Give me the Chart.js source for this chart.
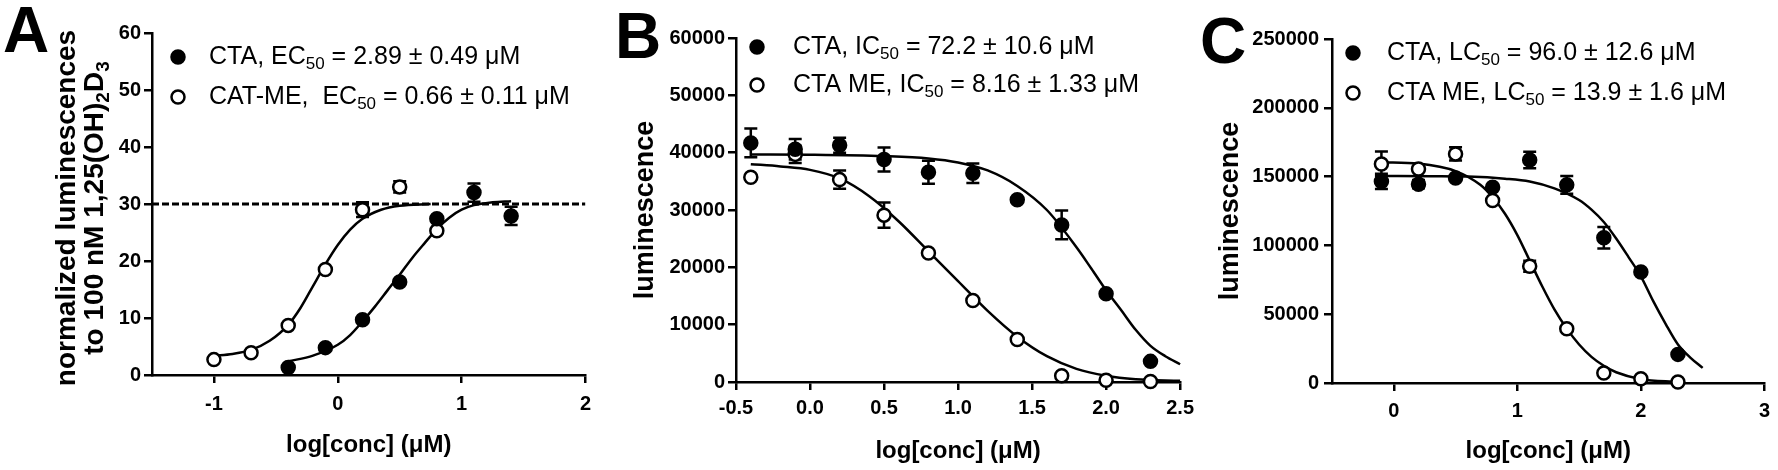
<!DOCTYPE html>
<html>
<head>
<meta charset="utf-8">
<title>CTA / CTA ME dose response</title>
<script src="https://cdn.jsdelivr.net/npm/chart.js@4.4.1/dist/chart.umd.min.js"></script>
<style>
  body { margin: 0; background: #fff; }
  #wrap { position: relative; width: 1778px; height: 470px; overflow: hidden; }
  #wrap canvas { position: absolute; top: 0; }
</style>
</head>
<body>
<div id="wrap">
  <canvas id="chartA" width="600" height="470" style="left:0px"></canvas>
  <canvas id="chartB" width="600" height="470" style="left:600px"></canvas>
  <canvas id="chartC" width="588" height="470" style="left:1190px"></canvas>
</div>
<script>
/* ---- panel A : VDR activation ---- */
const aDoseCTA = [-0.4, -0.1, 0.2, 0.5, 0.8, 1.1, 1.4];
const aCTA = [1.3, 4.8, 9.7, 16.3, 27.4, 32.0, 27.9];
const aCTAErr = [0, 0, 0, 0, 0, 1.6, 1.6];
const aDoseME = [-1.0, -0.7, -0.4, -0.1, 0.2, 0.5, 0.8];
const aME = [2.7, 3.9, 8.7, 18.5, 29.0, 33.0, 25.3];
const aMEErr = [0, 0, 0, 0, 1.3, 1.0, 0];
const aFitCTAx = [-0.4, -0.2, 0, 0.1, 0.2, 0.3, 0.4, 0.5, 0.6, 0.7, 0.8, 0.9, 1.0, 1.1, 1.25, 1.4];
const aFitCTAy = [2.4, 3.4, 5.3, 7.0, 9.4, 12.0, 14.8, 17.6, 20.5, 23.1, 25.6, 27.6, 29.0, 29.8, 30.3, 30.5];
const aFitMEx = [-1.0, -0.85, -0.7, -0.55, -0.4, -0.3, -0.2, -0.1, 0, 0.1, 0.2, 0.35, 0.5, 0.75];
const aFitMEy = [3.4, 3.7, 4.4, 6.0, 8.8, 11.8, 15.6, 19.4, 22.8, 25.5, 27.4, 29.0, 29.7, 30.0];
const aPlateau = 30;
const aXTicks = [-1, 0, 1, 2];
const aXLabels = ['-1', '0', '1', '2'];
const aYTicks = [0, 10, 20, 30, 40, 50, 60];
const aYLabels = ['0', '10', '20', '30', '40', '50', '60'];
const aLegend = [['CTA, EC', '_50', ' = 2.89 \u00b1 0.49 \u03bcM'], ['CAT-ME,  EC', '_50', ' = 0.66 \u00b1 0.11 \u03bcM']];
const aYTitle = [['normalized luminescences'], ['to 100 nM 1,25(OH)', '_2', 'D', '_3']];

/* ---- panel B : inhibition ---- */
const bDose = [-0.4, -0.1, 0.2, 0.5, 0.8, 1.1, 1.4, 1.7, 2.0, 2.3];
const bCTA = [41700, 40600, 41300, 38800, 36600, 36400, 31800, 27400, 15400, 3600];
const bCTAErr = [2500, 1800, 1300, 2100, 2000, 1700, 0, 2500, 0, 0];
const bME = [35700, 39700, 35300, 29100, 22500, 14200, 7400, 1100, 300, 100];
const bMEErr = [0, 1500, 1600, 2200, 0, 0, 0, 0, 0, 0];
const bFitCTAx = [-0.4, 0, 0.5, 0.8, 1.0, 1.2, 1.4, 1.6, 1.8, 1.9, 2.0, 2.1, 2.2, 2.3, 2.4, 2.5];
const bFitCTAy = [39700, 39650, 39400, 39000, 38300, 36900, 34200, 30000, 23500, 19800, 16000, 12600, 9100, 6300, 4500, 3100];
const bFitMEx = [-0.4, -0.2, 0, 0.2, 0.4, 0.6, 0.8, 1.0, 1.2, 1.4, 1.6, 1.8, 2.0, 2.2, 2.5];
const bFitMEy = [38000, 37600, 37000, 35500, 32400, 28000, 22800, 17600, 12400, 7900, 4500, 2300, 1100, 500, 200];
const bXTicks = [-0.5, 0, 0.5, 1, 1.5, 2, 2.5];
const bXLabels = ['-0.5', '0.0', '0.5', '1.0', '1.5', '2.0', '2.5'];
const bYTicks = [0, 10000, 20000, 30000, 40000, 50000, 60000];
const bYLabels = ['0', '10000', '20000', '30000', '40000', '50000', '60000'];
const bLegend = [['CTA, IC', '_50', ' = 72.2 \u00b1 10.6 \u03bcM'], ['CTA ME, IC', '_50', ' = 8.16 \u00b1 1.33 \u03bcM']];

/* ---- panel C : viability ---- */
const cDose = [-0.1, 0.2, 0.5, 0.8, 1.1, 1.4, 1.7, 2.0, 2.3];
const cCTA = [146500, 144500, 149000, 142300, 162100, 144000, 105500, 80600, 20800];
const cCTAErr = [5500, 3000, 0, 0, 6000, 6500, 7800, 0, 0];
const cME = [159200, 155500, 166500, 132600, 84900, 39400, 7300, 3100, 700];
const cMEErr = [9000, 2000, 4800, 0, 4000, 0, 0, 0, 0];
const cFitCTAx = [-0.1, 0.3, 0.6, 0.9, 1.1, 1.3, 1.5, 1.6, 1.7, 1.8, 1.9, 2.0, 2.1, 2.2, 2.3, 2.4, 2.5];
const cFitCTAy = [150500, 150300, 150000, 148500, 146500, 141500, 133000, 126000, 117000, 105000, 91500, 77500, 59500, 43000, 28000, 18500, 11000];
const cFitMEx = [-0.1, 0.2, 0.5, 0.7, 0.8, 0.9, 1.0, 1.1, 1.2, 1.3, 1.4, 1.5, 1.6, 1.7, 1.8, 2.0, 2.3];
const cFitMEy = [160500, 159500, 154000, 144000, 135000, 123000, 107500, 89000, 70500, 53500, 39500, 28000, 19000, 12500, 7800, 2800, 700];
const cXTicks = [0, 1, 2, 3];
const cXLabels = ['0', '1', '2', '3'];
const cYTicks = [0, 50000, 100000, 150000, 200000, 250000];
const cYLabels = ['0', '50000', '100000', '150000', '200000', '250000'];
const cLegend = [['CTA, LC', '_50', ' = 96.0 \u00b1 12.6 \u03bcM'], ['CTA ME, LC', '_50', ' = 13.9 \u00b1 1.6 \u03bcM']];

const xTitle = 'log[conc] (\u03bcM)';
const FONT = "'Liberation Sans', Arial, Helvetica, sans-serif";

function toPoints(xs, ys) {
  return xs.map(function (x, i) { return {x: x, y: ys[i]}; });
}

/* text pieces starting with '_' are drawn as subscripts */
function partsWidth(ctx, parts, size, weight) {
  let w = 0;
  parts.forEach(function (p) {
    const sub = p.charAt(0) === '_';
    ctx.font = weight + ' ' + (sub ? Math.round(size * 0.68) : size) + 'px ' + FONT;
    w += ctx.measureText(sub ? p.slice(1) : p).width;
  });
  return w;
}

function drawParts(ctx, x, y, parts, size, weight) {
  let cx = x;
  parts.forEach(function (p) {
    const sub = p.charAt(0) === '_';
    const txt = sub ? p.slice(1) : p;
    ctx.font = weight + ' ' + (sub ? Math.round(size * 0.68) : size) + 'px ' + FONT;
    ctx.fillText(txt, cx, sub ? y + size * 0.3 : y);
    cx += ctx.measureText(txt).width;
  });
}

const errorBars = {
  id: 'errorBars',
  beforeDatasetsDraw: function (chart) {
    const ctx = chart.ctx;
    const yScale = chart.scales.y;
    chart.data.datasets.forEach(function (ds, i) {
      if (!ds.errors) return;
      const meta = chart.getDatasetMeta(i);
      ctx.save();
      ctx.strokeStyle = '#000';
      ctx.lineWidth = 2.5;
      meta.data.forEach(function (pt, j) {
        const e = ds.errors[j];
        if (!e) return;
        const top = yScale.getPixelForValue(ds.data[j].y + e);
        const bot = yScale.getPixelForValue(ds.data[j].y - e);
        ctx.beginPath();
        ctx.moveTo(pt.x, top); ctx.lineTo(pt.x, bot);
        ctx.moveTo(pt.x - 6.5, top); ctx.lineTo(pt.x + 6.5, top);
        ctx.moveTo(pt.x - 6.5, bot); ctx.lineTo(pt.x + 6.5, bot);
        ctx.stroke();
      });
      ctx.restore();
    });
  }
};

/* panel letter, legend with subscripts, and the two-line y title of panel A */
const panelDeco = {
  id: 'panelDeco',
  afterDraw: function (chart, args, opts) {
    const ctx = chart.ctx;
    ctx.save();
    ctx.fillStyle = '#000';
    ctx.textBaseline = 'alphabetic';
    ctx.font = 'bold 64px ' + FONT;
    ctx.fillText(opts.letter, opts.letterX, opts.letterY);

    ctx.textBaseline = 'middle';
    opts.legend.forEach(function (parts, i) {
      const y = opts.legendY[i];
      ctx.beginPath();
      ctx.arc(opts.markerX, y, 6.5, 0, Math.PI * 2);
      ctx.fillStyle = i === 0 ? '#000' : '#fff';
      ctx.fill();
      ctx.lineWidth = 2.5;
      ctx.strokeStyle = '#000';
      ctx.stroke();
      ctx.fillStyle = '#000';
      drawParts(ctx, opts.textX, y, parts, 25, 'normal');
    });

    if (opts.yTitle) {
      opts.yTitle.forEach(function (parts, i) {
        const w = partsWidth(ctx, parts, 28, 'bold');
        ctx.save();
        ctx.translate(opts.yTitleX[i], opts.yTitleY);
        ctx.rotate(-Math.PI / 2);
        drawParts(ctx, -w / 2, 0, parts, 28, 'bold');
        ctx.restore();
      });
    }
    ctx.restore();
  }
};

function axis(min, max, ticks, labels, fit, tickPad, title) {
  return {
    type: 'linear',
    min: min,
    max: max,
    afterBuildTicks: function (scale) {
      scale.ticks = ticks.map(function (v) { return {value: v}; });
    },
    afterFit: function (scale) {
      if (scale.isHorizontal()) scale.height = fit; else scale.width = fit;
    },
    grid: {drawOnChartArea: false, drawTicks: true, tickLength: 8, color: '#000', lineWidth: 2.5},
    border: {display: true, color: '#000', width: 2.5},
    ticks: {
      color: '#000',
      padding: tickPad,
      maxRotation: 0,
      autoSkip: false,
      font: {family: FONT, size: 20, weight: 'bold'},
      callback: function (v, i) { return labels[i]; }
    },
    title: title
  };
}

function pointSet(xs, ys, errs, filled) {
  return {
    data: toPoints(xs, ys),
    errors: errs,
    showLine: false,
    pointRadius: 6.5,
    pointBorderWidth: 2.5,
    pointBackgroundColor: filled ? '#000' : '#fff',
    pointBorderColor: '#000',
    clip: false,
    order: 0
  };
}

function fitSet(xs, ys) {
  return {
    data: toPoints(xs, ys),
    showLine: true,
    pointRadius: 0,
    borderColor: '#000',
    borderWidth: 2.5,
    cubicInterpolationMode: 'monotone',
    clip: false,
    order: 1
  };
}

function buildPanel(id, p) {
  const datasets = [
    pointSet(p.doseCTA, p.cta, p.ctaErr, true),
    pointSet(p.doseME, p.me, p.meErr, false),
    fitSet(p.fitCTAx, p.fitCTAy),
    fitSet(p.fitMEx, p.fitMEy)
  ];
  if (p.refLine !== undefined) {
    datasets.push({
      data: [{x: p.xMin, y: p.refLine}, {x: p.xMax, y: p.refLine}],
      showLine: true,
      pointRadius: 0,
      borderColor: '#000',
      borderWidth: 3,
      borderDash: [7, 3],
      order: 2
    });
  }
  return new Chart(document.getElementById(id), {
    type: 'scatter',
    data: {datasets: datasets},
    options: {
      responsive: false,
      animation: false,
      events: [],
      layout: {padding: p.padding},
      plugins: {
        legend: {display: false},
        tooltip: {enabled: false},
        panelDeco: p.deco
      },
      scales: {
        x: axis(p.xMin, p.xMax, p.xTicks, p.xLabels, p.xFit, p.xTickPad, {
          display: true, text: xTitle, color: '#000',
          font: {family: FONT, size: 24, weight: 'bold'},
          padding: {top: 0, bottom: p.xTitlePad}
        }),
        y: axis(p.yMin, p.yMax, p.yTicks, p.yLabels, p.yFit, p.yTickPad, {
          display: !!p.yTitle, text: p.yTitle || '', color: '#000',
          font: {family: FONT, size: 27, weight: 'bold'},
          padding: {top: p.yTitlePad || 0, bottom: 0}
        })
      }
    },
    plugins: [errorBars, panelDeco]
  });
}

buildPanel('chartA', {
  doseCTA: aDoseCTA, cta: aCTA, ctaErr: aCTAErr,
  doseME: aDoseME, me: aME, meErr: aMEErr,
  fitCTAx: aFitCTAx, fitCTAy: aFitCTAy, fitMEx: aFitMEx, fitMEy: aFitMEy,
  refLine: aPlateau,
  xMin: -1.5, xMax: 2, yMin: 0, yMax: 60,
  xTicks: aXTicks, xLabels: aXLabels, yTicks: aYTicks, yLabels: aYLabels,
  xFit: 95, yFit: 152, xTickPad: 9, yTickPad: 3, xTitlePad: 10,
  padding: {top: 33, right: 7, left: 0, bottom: 0},
  deco: {
    letter: 'A', letterX: 3, letterY: 52,
    legend: aLegend, markerX: 178, textX: 209, legendY: [57, 97],
    yTitle: aYTitle, yTitleX: [67, 95], yTitleY: 208
  }
});

buildPanel('chartB', {
  doseCTA: bDose, cta: bCTA, ctaErr: bCTAErr,
  doseME: bDose, me: bME, meErr: bMEErr,
  fitCTAx: bFitCTAx, fitCTAy: bFitCTAy, fitMEx: bFitMEx, fitMEy: bFitMEy,
  xMin: -0.5, xMax: 2.5, yMin: 0, yMax: 60000,
  xTicks: bXTicks, xLabels: bXLabels, yTicks: bYTicks, yLabels: bYLabels,
  xFit: 88, yFit: 136, xTickPad: 6, yTickPad: 3, xTitlePad: 4,
  yTitle: 'luminescence', yTitlePad: 29,
  padding: {top: 38, right: 19, left: 0, bottom: 0},
  deco: {
    letter: 'B', letterX: 15, letterY: 58,
    legend: bLegend, markerX: 157, textX: 193, legendY: [47, 85]
  }
});

buildPanel('chartC', {
  doseCTA: cDose, cta: cCTA, ctaErr: cCTAErr,
  doseME: cDose, me: cME, meErr: cMEErr,
  fitCTAx: cFitCTAx, fitCTAy: cFitCTAy, fitMEx: cFitMEx, fitMEy: cFitMEy,
  xMin: -0.5, xMax: 3, yMin: 0, yMax: 250000,
  xTicks: cXTicks, xLabels: cXLabels, yTicks: cYTicks, yLabels: cYLabels,
  xFit: 87, yFit: 142, xTickPad: 8, yTickPad: 5, xTitlePad: 4,
  yTitle: 'luminescence', yTitlePad: 24,
  padding: {top: 39, right: 10, left: 0, bottom: 0},
  deco: {
    letter: 'C', letterX: 10, letterY: 63,
    legend: cLegend, markerX: 163, textX: 197, legendY: [53, 93]
  }
});
</script>
</body>
</html>
